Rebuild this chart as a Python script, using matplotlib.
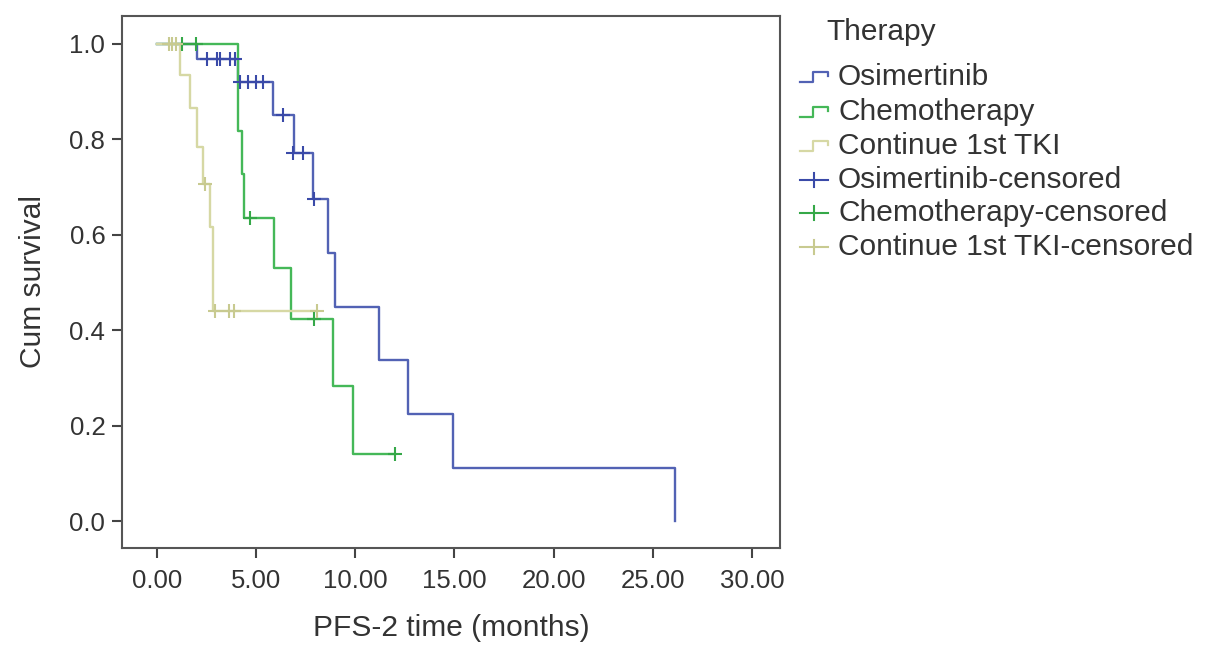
import matplotlib
matplotlib.use("Agg")
import matplotlib.pyplot as plt
from matplotlib.lines import Line2D

plt.rcParams['font.family'] = ['Liberation Sans', 'DejaVu Sans']

# ---- data ----
osi_times = [0, 2.00, 4.08, 5.87, 6.91, 7.87, 8.62, 8.98, 11.20, 12.66, 14.93, 26.12]
osi_surv = [1.0, 0.968, 0.920, 0.851, 0.771, 0.675, 0.562, 0.449, 0.337, 0.225, 0.112, 0.0]
osi_cens_t = [2.52, 3.03, 3.18, 3.68, 3.93, 4.18, 4.58, 4.98, 5.35, 6.35, 6.86, 7.36, 7.90]
osi_cens_s = [0.968, 0.968, 0.968, 0.968, 0.968, 0.920, 0.920, 0.920, 0.920, 0.851, 0.771, 0.771, 0.675]

chemo_times = [0, 4.08, 4.29, 4.39, 5.92, 6.78, 8.88, 9.88, 12.0]
chemo_surv = [1.0, 0.818, 0.727, 0.636, 0.530, 0.424, 0.283, 0.141, 0.141]
chemo_cens_t = [1.26, 1.95, 4.70, 7.90, 12.0]
chemo_cens_s = [1.0, 1.0, 0.636, 0.424, 0.141]

tki_times = [0, 1.16, 1.66, 2.02, 2.32, 2.67, 2.83, 8.07]
tki_surv = [1.0, 0.935, 0.866, 0.785, 0.707, 0.617, 0.440, 0.440]
tki_cens_t = [0.60, 0.78, 0.95, 2.42, 2.92, 3.62, 3.90, 8.05]
tki_cens_s = [1.0, 1.0, 1.0, 0.707, 0.440, 0.440, 0.440, 0.440]

legend_labels = ["Osimertinib", "Chemotherapy", "Continue 1st TKI",
                 "Osimertinib-censored", "Chemotherapy-censored", "Continue 1st TKI-censored"]
x_ticks = [0, 5, 10, 15, 20, 25, 30]
y_ticks = [0.0, 0.2, 0.4, 0.6, 0.8, 1.0]

c_osi = '#5262b4'
c_chemo = '#45b858'
c_tki = '#d6d8a4'
m_osi = '#3a4aa8'
m_chemo = '#35a848'
m_tki = '#c8ca90'

W, H = 1205, 656
fig = plt.figure(figsize=(W/100, H/100), dpi=100)
ax = fig.add_axes([122/W, 1-548/H, (780-122)/W, (548-16)/H])

ax.step(osi_times, osi_surv, where='post', color=c_osi, lw=1.7, zorder=2)
ax.step(chemo_times, chemo_surv, where='post', color=c_chemo, lw=1.7, zorder=3)
ax.step(tki_times, tki_surv, where='post', color=c_tki, lw=1.7, zorder=4)
ax.plot(osi_cens_t, osi_cens_s, ls='none', marker='+', ms=10, mew=1.5, color=m_osi, zorder=5)
ax.plot(chemo_cens_t, chemo_cens_s, ls='none', marker='+', ms=10, mew=1.5, color=m_chemo, zorder=5)
ax.plot(tki_cens_t, tki_cens_s, ls='none', marker='+', ms=10, mew=1.5, color=m_tki, zorder=6)

ax.set_xlim(-1.765, 31.42)
ax.set_ylim(-0.0566, 1.0587)
ax.set_xticks(x_ticks)
ax.set_xticklabels([f"{v:.2f}" for v in x_ticks])
ax.set_yticks(y_ticks)
ax.set_yticklabels([f"{v:.1f}" for v in y_ticks])
ax.tick_params(direction='out', length=7, width=1.5, colors='#444444', labelsize=18.5, labelcolor='#333333')
ax.tick_params(axis='x', pad=8)
ax.tick_params(axis='y', pad=5)
for s in ax.spines.values():
    s.set_color('#555555')
    s.set_linewidth(1.5)
ax.set_xlabel("PFS-2 time (months)", fontsize=21.5, color='#333333', labelpad=15)
ax.set_ylabel("Cum survival", fontsize=21.5, color='#333333', labelpad=16)

# ---- legend (drawn manually to mimic SPSS style) ----
def fx(px):
    return px / W
def fy(py):
    return 1 - py / H

fig.text(fx(826), fy(32), "Therapy", fontsize=21.5, color='#333333', va='center', ha='left')
line_cols = [c_osi, c_chemo, c_tki]
mark_cols = [m_osi, m_chemo, m_tki]
row_y = [77, 112, 146, 180, 213, 247]
for i, lab in enumerate(legend_labels):
    y = row_y[i]
    if i < 3:
        xs = [fx(800), fx(813), fx(813), fx(828), fx(828)]
        ys = [fy(y+5), fy(y+5), fy(y-5), fy(y-5), fy(y-1)]
        fig.add_artist(Line2D(xs, ys, color=line_cols[i], lw=1.6))
    else:
        fig.add_artist(Line2D([fx(800), fx(828)], [fy(y), fy(y)], color=mark_cols[i-3], lw=1.5))
        fig.add_artist(Line2D([fx(814), fx(814)], [fy(y-7), fy(y+7)], color=mark_cols[i-3], lw=1.5))
    fig.text(fx(838), fy(y), lab, fontsize=21.5, color='#333333', va='center', ha='left')

fig.savefig("out.png", dpi=100)
